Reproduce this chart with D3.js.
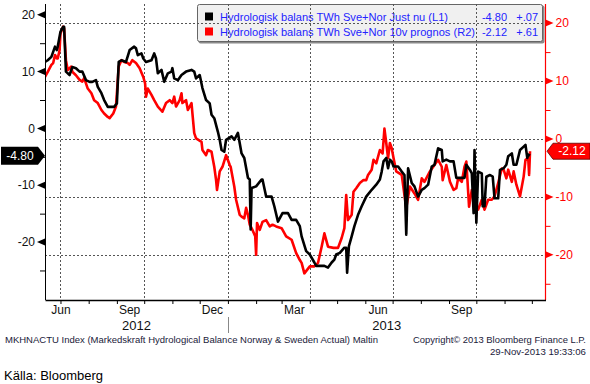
<!DOCTYPE html>
<html>
<head>
<meta charset="utf-8">
<script src="https://cdn.jsdelivr.net/npm/d3@7"></script>
<style>
body { margin: 0; background: #fff; }
svg { display: block; font-family: "Liberation Sans", Arial, sans-serif; }
</style>
</head>
<body>
<div id="chart"></div>
<script>
// Hydrologisk balans TWh Sve+Nor, Just nu (left axis)
const justNu = [
  ["2012-06-14", 11.7], ["2012-06-17", 12.0], ["2012-06-21", 12.6], ["2012-06-25", 14.4], ["2012-06-27", 13.8],
  ["2012-06-28", 14.4], ["2012-07-01", 17.0], ["2012-07-04", 17.9], ["2012-07-05", 17.9], ["2012-07-07", 10.0],
  ["2012-07-11", 9.4], ["2012-07-14", 10.8], ["2012-07-18", 10.6], ["2012-07-22", 10.0], ["2012-07-25", 10.0],
  ["2012-07-29", 8.5], ["2012-08-02", 8.2], ["2012-08-05", 8.2], ["2012-08-09", 8.5], ["2012-08-11", 7.3],
  ["2012-08-15", 6.2], ["2012-08-18", 5.0], ["2012-08-22", 3.8], ["2012-08-26", 3.8], ["2012-08-29", 3.8],
  ["2012-09-01", 4.4], ["2012-09-03", 11.7], ["2012-09-06", 12.0], ["2012-09-11", 11.7], ["2012-09-15", 13.8],
  ["2012-09-20", 14.4], ["2012-09-22", 14.1], ["2012-09-24", 12.9], ["2012-09-28", 13.2], ["2012-09-30", 12.3],
  ["2012-10-03", 11.7], ["2012-10-09", 12.0], ["2012-10-12", 13.2], ["2012-10-14", 12.3], ["2012-10-16", 9.7],
  ["2012-10-20", 10.3], ["2012-10-23", 8.2], ["2012-10-27", 9.7], ["2012-10-31", 10.0], ["2012-11-01", 10.6],
  ["2012-11-03", 8.8], ["2012-11-07", 8.5], ["2012-11-11", 9.4], ["2012-11-16", 10.0], ["2012-11-22", 10.3],
  ["2012-11-25", 10.0], ["2012-11-27", 8.8], ["2012-12-01", 9.4], ["2012-12-04", 7.1], ["2012-12-08", 5.0],
  ["2012-12-12", 4.4], ["2012-12-14", 2.4], ["2012-12-17", 1.8], ["2012-12-21", -0.6], ["2012-12-23", -2.0],
  ["2012-12-25", -3.8], ["2012-12-28", -4.1], ["2012-12-30", -2.0], ["2013-01-05", -1.4], ["2013-01-08", -2.0],
  ["2013-01-12", -0.8], ["2013-01-16", -4.4], ["2013-01-19", -5.2], ["2013-01-23", -8.7], ["2013-01-25", -9.0],
  ["2013-01-26", -17.8], ["2013-01-27", -10.5], ["2013-02-01", -10.2], ["2013-02-07", -9.0], ["2013-02-08", -9.0],
  ["2013-02-12", -12.0], ["2013-02-18", -12.0], ["2013-02-21", -13.7], ["2013-02-25", -16.4], ["2013-03-02", -14.9],
  ["2013-03-08", -14.9], ["2013-03-12", -16.1], ["2013-03-17", -16.1], ["2013-03-21", -17.2], ["2013-03-23", -19.0],
  ["2013-03-28", -21.6], ["2013-04-01", -22.2], ["2013-04-06", -23.6], ["2013-04-08", -24.2], ["2013-04-17", -24.2],
  ["2013-04-21", -24.5], ["2013-04-25", -23.6], ["2013-04-28", -23.1], ["2013-04-30", -22.2], ["2013-05-04", -21.9],
  ["2013-05-09", -21.0], ["2013-05-11", -21.0], ["2013-05-12", -25.4], ["2013-05-14", -20.7], ["2013-05-17", -19.0],
  ["2013-05-20", -17.2], ["2013-05-24", -15.2], ["2013-05-28", -13.7], ["2013-06-02", -12.0], ["2013-06-08", -10.8],
  ["2013-06-13", -9.9], ["2013-06-17", -9.0], ["2013-06-19", -7.6], ["2013-06-21", -5.8], ["2013-06-24", -5.2],
  ["2013-06-26", -7.0], ["2013-06-28", -5.5], ["2013-06-30", -5.8], ["2013-07-02", -6.7], ["2013-07-07", -6.7],
  ["2013-07-11", -7.6], ["2013-07-14", -8.2], ["2013-07-16", -18.7], ["2013-07-18", -7.0], ["2013-07-22", -9.6],
  ["2013-07-25", -10.2], ["2013-07-29", -12.0], ["2013-08-02", -10.8], ["2013-08-05", -10.5], ["2013-08-09", -9.9],
  ["2013-08-13", -6.7], ["2013-08-16", -6.4], ["2013-08-20", -3.5], ["2013-08-24", -3.8], ["2013-08-25", -5.8],
  ["2013-08-29", -5.5], ["2013-09-02", -5.8], ["2013-09-06", -5.8], ["2013-09-09", -8.7], ["2013-09-13", -8.7],
  ["2013-09-18", -8.7], ["2013-09-20", -6.4], ["2013-09-24", -7.3], ["2013-09-26", -7.9], ["2013-09-28", -14.9],
  ["2013-09-29", -3.8], ["2013-10-01", -16.6], ["2013-10-03", -7.6], ["2013-10-07", -7.9], ["2013-10-08", -13.7],
  ["2013-10-10", -13.7], ["2013-10-12", -8.5], ["2013-10-16", -8.2], ["2013-10-19", -8.5], ["2013-10-21", -12.3],
  ["2013-10-25", -12.3], ["2013-10-27", -7.3], ["2013-10-31", -7.0], ["2013-11-03", -6.4], ["2013-11-05", -4.9],
  ["2013-11-09", -4.4], ["2013-11-11", -6.4], ["2013-11-14", -6.4], ["2013-11-18", -3.8], ["2013-11-22", -3.2],
  ["2013-11-24", -2.9], ["2013-11-26", -5.2], ["2013-11-27", -4.6], ["2013-11-29", -4.80]
];

// Hydrologisk balans TWh Sve+Nor, 10v prognos (right axis)
const prognos = [
  ["2012-06-14", 10.7], ["2012-06-17", 11.6], ["2012-06-21", 12.8], ["2012-06-23", 13.1], ["2012-06-25", 14.5],
  ["2012-06-27", 13.9], ["2012-06-28", 13.9], ["2012-06-30", 15.3], ["2012-07-01", 18.2], ["2012-07-04", 19.4],
  ["2012-07-05", 19.1], ["2012-07-07", 13.6], ["2012-07-09", 11.9], ["2012-07-13", 12.5], ["2012-07-14", 11.6],
  ["2012-07-18", 11.0], ["2012-07-22", 10.2], ["2012-07-25", 9.9], ["2012-07-27", 10.5], ["2012-07-31", 8.7],
  ["2012-08-04", 7.9], ["2012-08-07", 6.7], ["2012-08-11", 6.2], ["2012-08-15", 5.0], ["2012-08-18", 4.4],
  ["2012-08-22", 3.8], ["2012-08-24", 3.6], ["2012-08-28", 4.4], ["2012-08-31", 5.6], ["2012-09-03", 12.5],
  ["2012-09-06", 13.6], ["2012-09-09", 13.3], ["2012-09-13", 13.1], ["2012-09-15", 12.8], ["2012-09-18", 13.6],
  ["2012-09-22", 13.1], ["2012-09-26", 12.2], ["2012-09-30", 10.7], ["2012-10-02", 9.6], ["2012-10-03", 7.3],
  ["2012-10-05", 8.7], ["2012-10-09", 7.6], ["2012-10-12", 6.7], ["2012-10-16", 5.6], ["2012-10-21", 4.7],
  ["2012-10-25", 6.2], ["2012-10-29", 6.7], ["2012-11-01", 6.2], ["2012-11-03", 7.3], ["2012-11-05", 5.6],
  ["2012-11-09", 6.7], ["2012-11-11", 7.9], ["2012-11-12", 6.2], ["2012-11-16", 6.7], ["2012-11-18", 5.0],
  ["2012-11-22", 6.2], ["2012-11-23", 4.4], ["2012-11-25", 1.0], ["2012-11-27", 0.1], ["2012-12-03", -0.5],
  ["2012-12-04", -1.9], ["2012-12-08", -2.8], ["2012-12-10", -1.9], ["2012-12-14", -2.2], ["2012-12-15", -3.1],
  ["2012-12-17", -4.8], ["2012-12-19", -7.1], ["2012-12-20", -8.8], ["2012-12-23", -5.6], ["2012-12-26", -4.8],
  ["2012-12-30", -2.8], ["2013-01-03", -4.5], ["2013-01-04", -4.8], ["2013-01-08", -8.2], ["2013-01-10", -10.5],
  ["2013-01-14", -13.1], ["2013-01-16", -13.4], ["2013-01-19", -13.7], ["2013-01-21", -11.9], ["2013-01-23", -13.1],
  ["2013-01-25", -14.8], ["2013-01-28", -15.7], ["2013-01-31", -16.8], ["2013-02-01", -20.0], ["2013-02-02", -14.5],
  ["2013-02-05", -15.7], ["2013-02-08", -14.3], ["2013-02-12", -14.0], ["2013-02-16", -15.1], ["2013-02-19", -14.8],
  ["2013-02-23", -15.1], ["2013-03-01", -15.4], ["2013-03-06", -16.8], ["2013-03-12", -17.4], ["2013-03-17", -19.7],
  ["2013-03-21", -20.9], ["2013-03-23", -21.4], ["2013-03-26", -23.2], ["2013-04-01", -22.0], ["2013-04-06", -22.0],
  ["2013-04-10", -21.4], ["2013-04-14", -18.6], ["2013-04-17", -16.3], ["2013-04-21", -18.6], ["2013-04-27", -18.8],
  ["2013-05-02", -18.8], ["2013-05-06", -17.1], ["2013-05-09", -15.4], ["2013-05-11", -9.7], ["2013-05-13", -14.0],
  ["2013-05-17", -13.1], ["2013-05-19", -9.1], ["2013-05-22", -8.5], ["2013-05-26", -7.6], ["2013-05-30", -7.1],
  ["2013-06-02", -7.1], ["2013-06-04", -6.2], ["2013-06-08", -5.3], ["2013-06-10", -3.6], ["2013-06-13", -4.2],
  ["2013-06-17", -1.9], ["2013-06-20", -2.5], ["2013-06-22", 1.8], ["2013-06-24", -0.7], ["2013-06-26", -3.3],
  ["2013-06-28", -0.7], ["2013-06-30", -1.6], ["2013-07-02", -3.3], ["2013-07-05", -5.6], ["2013-07-11", -6.2],
  ["2013-07-14", -9.7], ["2013-07-16", -11.9], ["2013-07-20", -8.2], ["2013-07-25", -9.4], ["2013-07-29", -10.5],
  ["2013-08-02", -6.8], ["2013-08-05", -7.4], ["2013-08-11", -5.6], ["2013-08-16", -4.5], ["2013-08-20", -3.6],
  ["2013-08-24", -4.8], ["2013-08-25", -7.1], ["2013-08-29", -4.5], ["2013-09-02", -7.4], ["2013-09-06", -8.8],
  ["2013-09-09", -8.5], ["2013-09-11", -6.8], ["2013-09-15", -7.4], ["2013-09-18", -4.8], ["2013-09-20", -3.9],
  ["2013-09-23", -11.7], ["2013-09-26", -8.8], ["2013-09-29", -10.5], ["2013-10-03", -12.2], ["2013-10-07", -10.5],
  ["2013-10-10", -12.2], ["2013-10-14", -10.5], ["2013-10-18", -10.5], ["2013-10-21", -9.9], ["2013-10-25", -7.6],
  ["2013-10-29", -5.1], ["2013-10-31", -5.3], ["2013-11-03", -6.8], ["2013-11-05", -5.3], ["2013-11-09", -7.4],
  ["2013-11-11", -5.6], ["2013-11-14", -7.9], ["2013-11-18", -9.9], ["2013-11-22", -6.5], ["2013-11-24", -3.6],
  ["2013-11-27", -3.3], ["2013-11-28", -6.2], ["2013-11-29", -2.12]
];

const dateRange = ["2012-06-14", "2013-12-16"];
const leftDomain = [-30.2, 21.9];
const rightDomain = [-27.8, 23.3];
const majorTicks = [-20, -10, 0, 10, 20];
const minorTicks = [-25, -15, -5, 5, 15];
const monthLabels = [
  ["2012-06-15", "Jun"], ["2012-09-15", "Sep"], ["2012-12-15", "Dec"],
  ["2013-03-15", "Mar"], ["2013-06-15", "Jun"], ["2013-09-15", "Sep"]
];
const yearLabels = ["2012", "2013"];
const legendRows = [
  { name: "Hydrologisk balans TWh Sve+Nor Just nu (L1)", last: "-4.80", change: "+.07" },
  { name: "Hydrologisk balans TWh Sve+Nor 10v prognos (R2)", last: "-2.12", change: "+.61" }
];

const width = 590, height = 384;
const plotL = 45, plotR = 545.5, plotT = 4, plotB = 300;
const parse = d3.timeParse("%Y-%m-%d");
const black = "#000", red = "#ff0000";

const svg = d3.select("#chart").append("svg")
    .attr("width", width)
    .attr("height", height);

const x = d3.scaleTime()
    .domain(dateRange.map(parse))
    .range([plotL, plotR]);
const yL = d3.scaleLinear().domain(leftDomain).range([plotB, plotT]);
const yR = d3.scaleLinear().domain(rightDomain).range([plotB, plotT]);

// legend background sits under the grid
const legend = svg.append("g");
legend.append("rect")
    .attr("x", 198.5).attr("y", 5.5).attr("width", 346).attr("height", 38)
    .attr("rx", 2).attr("fill", "#8a8a8a");
legend.append("rect")
    .attr("x", 197.5).attr("y", 4.5).attr("width", 345).attr("height", 37)
    .attr("rx", 2).attr("fill", "#f0f0f0").attr("stroke", "#666");

// grid
const grid = svg.append("g")
    .attr("stroke", "#555")
    .attr("stroke-dasharray", "2,2");
grid.selectAll(".h").data(majorTicks).enter().append("line")
    .attr("x1", plotL).attr("x2", plotR)
    .attr("y1", d => Math.round(yR(d)) + 0.5)
    .attr("y2", d => Math.round(yR(d)) + 0.5);
const quarters = d3.timeMonths(parse("2012-07-01"), parse("2013-11-01"), 3);
grid.selectAll(".v").data(quarters).enter().append("line")
    .attr("x1", d => Math.round(x(d)) + 0.5)
    .attr("x2", d => Math.round(x(d)) + 0.5)
    .attr("y1", plotT).attr("y2", plotB);

// legend entries
legendRows.forEach((r, i) => {
  const yy = 20.5 + i * 15;
  legend.append("rect")
      .attr("x", 205).attr("y", yy - 8).attr("width", 8).attr("height", 8)
      .attr("fill", i === 0 ? black : red);
  legend.append("text")
      .attr("x", 220).attr("y", yy)
      .attr("font-size", 11).attr("fill", "#2323ff")
      .attr("textLength", i === 0 ? 228 : 255).attr("lengthAdjust", "spacingAndGlyphs")
      .text(r.name);
  legend.append("text")
      .attr("x", 507).attr("y", yy).attr("text-anchor", "end")
      .attr("font-size", 11).attr("fill", "#2323ff").text(r.last);
  legend.append("text")
      .attr("x", 538).attr("y", yy).attr("text-anchor", "end")
      .attr("font-size", 11).attr("fill", "#2323ff").text(r.change);
});

// series
svg.append("clipPath").attr("id", "plot")
  .append("rect").attr("x", plotL).attr("y", plotT)
  .attr("width", plotR - plotL).attr("height", plotB - plotT);

const lineL = d3.line().x(d => x(parse(d[0]))).y(d => yL(d[1]));
const lineR = d3.line().x(d => x(parse(d[0]))).y(d => yR(d[1]));

svg.append("path")
    .datum(prognos)
    .attr("clip-path", "url(#plot)")
    .attr("d", lineR)
    .attr("fill", "none").attr("stroke", red)
    .attr("stroke-width", 2.6).attr("stroke-linejoin", "round");

svg.append("path")
    .datum(justNu)
    .attr("clip-path", "url(#plot)")
    .attr("d", lineL)
    .attr("fill", "none").attr("stroke", black)
    .attr("stroke-width", 2.6).attr("stroke-linejoin", "round");

// left axis
const axL = svg.append("g")
    .attr("transform", `translate(${plotL},0)`)
    .call(d3.axisLeft(yL).tickValues(minorTicks).tickSize(5).tickFormat(""));
axL.select(".domain").remove();
axL.append("line").attr("x1", 0.5).attr("x2", 0.5)
    .attr("y1", plotT).attr("y2", plotB).attr("stroke", black);
axL.selectAll(".major").data(majorTicks).enter().append("path")
    .attr("d", d => `M0,${yL(d) - 3.5}L-8,${yL(d)}L0,${yL(d) + 3.5}Z`)
    .attr("fill", black);
axL.selectAll(".lab").data(majorTicks).enter().append("text")
    .attr("x", -10).attr("y", d => yL(d)).attr("dy", "0.35em")
    .attr("text-anchor", "end").attr("font-size", 12).attr("fill", "#111")
    .text(d => String(d));

// right axis
const axR = svg.append("g")
    .attr("transform", `translate(${plotR},0)`)
    .call(d3.axisRight(yR).tickValues(minorTicks).tickSize(5).tickFormat(""));
axR.select(".domain").remove();
axR.selectAll(".tick line").attr("stroke", red);
axR.append("line").attr("x1", 0).attr("x2", 0)
    .attr("y1", plotT).attr("y2", plotB).attr("stroke", red).attr("stroke-width", 1.2);
axR.selectAll(".major").data(majorTicks).enter().append("path")
    .attr("d", d => `M0,${yR(d) - 3.5}L8,${yR(d)}L0,${yR(d) + 3.5}Z`)
    .attr("fill", red);
axR.selectAll(".lab").data(majorTicks).enter().append("text")
    .attr("x", 10).attr("y", d => yR(d)).attr("dy", "0.35em")
    .attr("font-size", 12).attr("fill", red)
    .text(d => String(d));

// bottom axis with monthly ticks
const months = d3.timeMonths(parse("2012-07-01"), parse("2013-12-02"));
const axB = svg.append("g")
    .attr("transform", `translate(0,${plotB})`)
    .call(d3.axisBottom(x).tickValues(months).tickSize(4).tickSizeOuter(0).tickFormat(""));
axB.select(".domain").attr("stroke", black).attr("stroke-width", 1.3);

svg.selectAll(".month").data(monthLabels).enter().append("text")
    .attr("x", d => Math.max(x(parse(d[0])), plotL + 16))
    .attr("y", 314)
    .attr("text-anchor", "middle").attr("font-size", 12).attr("fill", "#111")
    .text(d => d[1]);

const yearStart = parse("2013-01-01");
svg.append("line")
    .attr("x1", Math.round(x(yearStart)) + 0.5).attr("x2", Math.round(x(yearStart)) + 0.5)
    .attr("y1", 317).attr("y2", 333).attr("stroke", "#888");
svg.selectAll(".year").data(yearLabels).enter().append("text")
    .attr("x", (d, i) => i === 0 ? (plotL + x(yearStart)) / 2 : (x(yearStart) + plotR) / 2)
    .attr("y", 330)
    .attr("text-anchor", "middle").attr("font-size", 13).attr("fill", "#111")
    .text(d => d);

// last value tags
const lastL = justNu[justNu.length - 1][1];
const lastR = prognos[prognos.length - 1][1];
const cyL = yL(lastL), cyR = yR(lastR);
svg.append("path")
    .attr("d", `M1,${cyL - 9}H38L45,${cyL}L38,${cyL + 9}H1Z`)
    .attr("fill", black);
svg.append("text")
    .attr("x", 20).attr("y", cyL).attr("dy", "0.35em").attr("text-anchor", "middle")
    .attr("font-size", 12).attr("fill", "#fff").text(lastL.toFixed(2));
svg.append("path")
    .attr("d", `M547,${cyR}L553,${cyR - 8}H590V${cyR + 8}H553Z`)
    .attr("fill", red).attr("stroke", "#5a0000").attr("stroke-width", 0.8);
svg.append("text")
    .attr("x", 572).attr("y", cyR).attr("dy", "0.35em").attr("text-anchor", "middle")
    .attr("font-size", 12).attr("fill", "#fff").text(lastR.toFixed(2));

// footer
svg.append("text")
    .attr("x", 5).attr("y", 343).attr("font-size", 9).attr("fill", "#1a1a3a")
    .attr("textLength", 373).attr("lengthAdjust", "spacingAndGlyphs")
    .text("MKHNACTU Index (Markedskraft Hydrological Balance Norway & Sweden Actual) Maltin");
svg.append("text")
    .attr("x", 586).attr("y", 343).attr("text-anchor", "end").attr("font-size", 9).attr("fill", "#1a1a3a")
    .attr("textLength", 173).attr("lengthAdjust", "spacingAndGlyphs")
    .text("Copyright© 2013 Bloomberg Finance L.P.");
svg.append("text")
    .attr("x", 586).attr("y", 355).attr("text-anchor", "end").attr("font-size", 9).attr("fill", "#1a1a3a")
    .attr("textLength", 96).attr("lengthAdjust", "spacingAndGlyphs")
    .text("29-Nov-2013 19:33:06");
svg.append("text")
    .attr("x", 4).attr("y", 380).attr("font-size", 13).attr("fill", "#000")
    .text("Källa: Bloomberg");
</script>
</body>
</html>
